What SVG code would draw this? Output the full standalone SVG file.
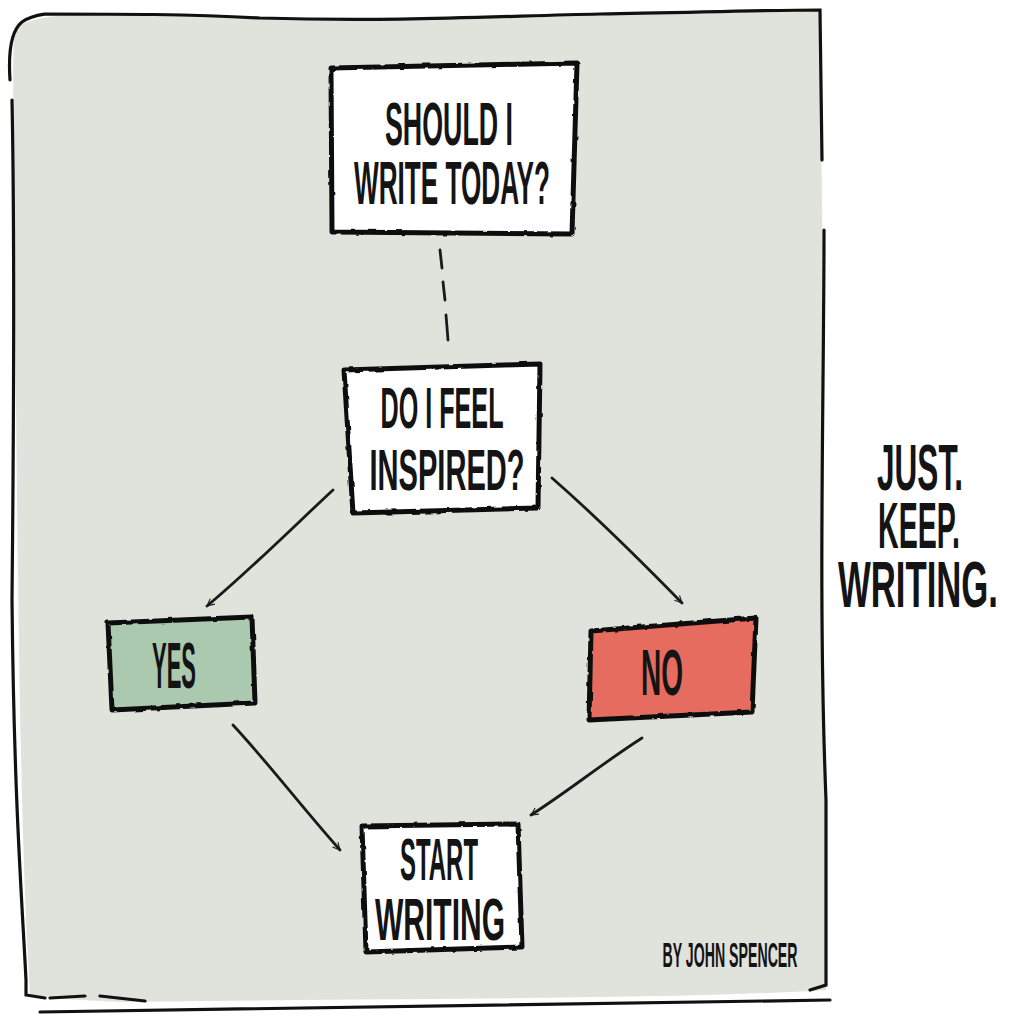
<svg xmlns="http://www.w3.org/2000/svg" width="1024" height="1024" viewBox="0 0 1024 1024">
<defs>
<style>
.t{font-family:"Liberation Sans","DejaVu Sans",sans-serif;fill:#141414;text-anchor:middle;font-weight:bold}
.box{stroke:#111;stroke-width:5;stroke-linejoin:round}
.edge{fill:none;stroke:#1a1a1a;stroke-width:2.8;stroke-linecap:round}
.frame{fill:none;stroke:#111;stroke-width:3.2;stroke-linecap:round}
</style>
<filter id="rough" x="-5%" y="-5%" width="110%" height="110%">
<feTurbulence type="fractalNoise" baseFrequency="0.09" numOctaves="2" seed="3"/>
<feDisplacementMap in="SourceGraphic" scale="3"/>
</filter>
<marker id="ah" viewBox="0 0 20 20" refX="18" refY="10" markerWidth="9" markerHeight="9" orient="auto" markerUnits="userSpaceOnUse">
<path d="M2,2 L18,10 L2,18" fill="none" stroke="#1a1a1a" stroke-width="2.4"/>
</marker>
</defs>
<rect width="1024" height="1024" fill="#ffffff"/>
<g id="panel">
<path d="M14,28 C40,14 60,16 110,14 C200,15 300,22 400,20 C500,18 600,14 700,14 C760,12 790,8 820,10 L822,200 C824,400 818,600 826,800 L826,990 C700,998 500,998 300,1000 L120,1002 C80,1000 40,998 30,995 L28,960 C20,800 18,600 16,400 C14,250 12,100 14,28 Z" fill="#e0e2dc"/>
<path class="frame" d="M10,80 C8,50 12,30 22,22 C30,16 38,15 45,14 C120,14 190,14 260,18 C400,22 500,16 600,14 C680,13 760,10 820,10 L822,160 M824,230 C824,400 818,600 826,800 L826,985 L810,990 M12,100 C14,200 14,400 12,600 C14,800 22,900 26,980 L26,995 L45,998 M50,998 L85,996 M100,996 L145,1001 M40,1012 C200,1010 500,1005 830,1000"/>
</g>
<g id="connectors">
<path class="edge" d="M440,250 L442,268 M443,282 L445,300 M446,315 L448,340"/>
<path class="edge" d="M333,490 C290,530 250,570 207,606" marker-end="url(#ah)"/>
<path class="edge" d="M552,478 C600,520 640,560 682,603" marker-end="url(#ah)"/>
<path class="edge" d="M233,725 C270,765 300,805 340,850" marker-end="url(#ah)"/>
<path class="edge" d="M642,738 C600,765 570,790 531,815" marker-end="url(#ah)"/>
</g>
<g id="n1">
<path class="box" filter="url(#rough)" d="M331,68 L577,63 L572,234 L332,232 Z" fill="#ffffff"/>
<path d="M331,68 L332,232" stroke="#111" stroke-width="7" filter="url(#rough)"/>
<text class="t" transform="translate(449,145) scale(0.5,1)" font-size="62" textLength="256" lengthAdjust="spacingAndGlyphs">SHOULD I</text>
<text class="t" transform="translate(452,204) scale(0.5,1)" font-size="62" textLength="392" lengthAdjust="spacingAndGlyphs">WRITE TODAY?</text>
</g>
<g id="n2">
<path class="box" filter="url(#rough)" d="M344,370 L540,364 L538,508 L353,513 Z" fill="#ffffff"/>
<text class="t" transform="translate(442,428) scale(0.5,1)" font-size="58" textLength="246" lengthAdjust="spacingAndGlyphs">DO I FEEL</text>
<text class="t" transform="translate(447,490) scale(0.5,1)" font-size="58" textLength="310" lengthAdjust="spacingAndGlyphs">INSPIRED?</text>
</g>
<g id="n3">
<path class="box" filter="url(#rough)" d="M108,623 L252,617 L255,703 L112,710 Z" fill="#abc9ae"/>
<text class="t" transform="translate(174,688) scale(0.5,1)" font-size="64" textLength="88" lengthAdjust="spacingAndGlyphs">YES</text>
</g>
<g id="n4">
<path class="box" filter="url(#rough)" d="M591,631 L756,618 L752,712 L589,720 Z" fill="#e56c5e"/>
<text class="t" transform="translate(662,695) scale(0.5,1)" font-size="64" textLength="84" lengthAdjust="spacingAndGlyphs">NO</text>
</g>
<g id="n5">
<path class="box" filter="url(#rough)" d="M362,826 L518,824 L522,947 L366,952 Z" fill="#ffffff"/>
<text class="t" transform="translate(439,880) scale(0.5,1)" font-size="60" textLength="156" lengthAdjust="spacingAndGlyphs">START</text>
<text class="t" transform="translate(440,940) scale(0.5,1)" font-size="60" textLength="260" lengthAdjust="spacingAndGlyphs">WRITING</text>
</g>
<g id="slogan">
<text class="t" transform="translate(920,490) scale(0.5,1)" font-size="64" textLength="172" lengthAdjust="spacingAndGlyphs">JUST.</text>
<text class="t" transform="translate(919,548) scale(0.5,1)" font-size="64" textLength="164" lengthAdjust="spacingAndGlyphs">KEEP.</text>
<text class="t" transform="translate(918,607) scale(0.5,1)" font-size="64" textLength="320" lengthAdjust="spacingAndGlyphs">WRITING.</text>
</g>
<g id="credit">
<text class="t" transform="translate(730,967) scale(0.5,1)" font-size="35" textLength="270" lengthAdjust="spacingAndGlyphs">BY JOHN SPENCER</text>
</g>
</svg>
